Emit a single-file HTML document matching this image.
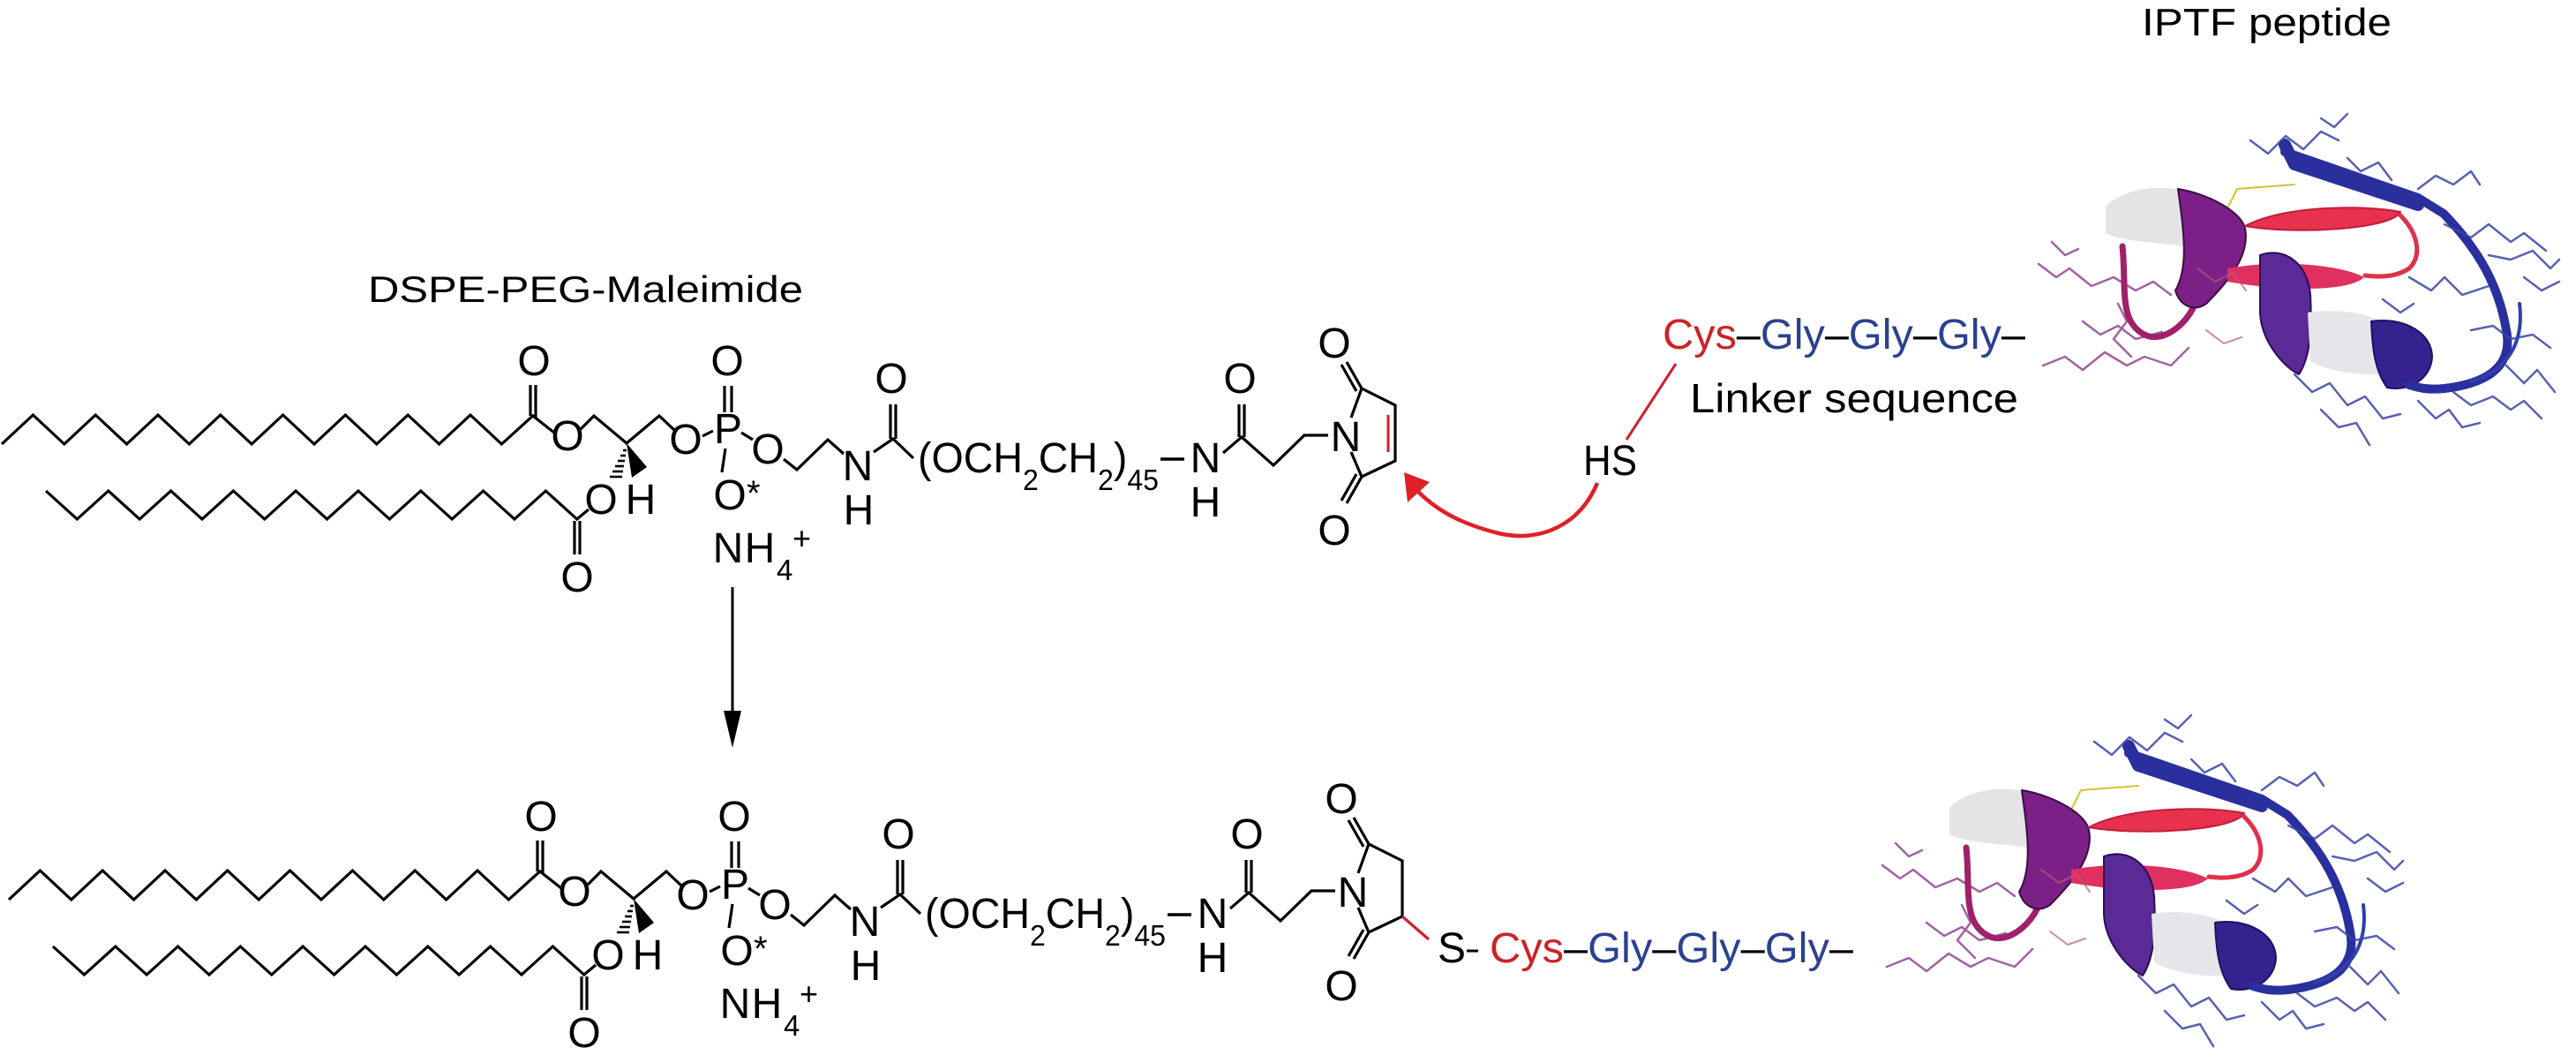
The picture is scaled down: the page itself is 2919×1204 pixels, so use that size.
<!DOCTYPE html>
<html><head><meta charset="utf-8"><style>
html,body{margin:0;padding:0;background:#fff;}
svg{display:block;}
text{font-family:"Liberation Sans Narrow","Liberation Sans",sans-serif;fill:#000;}
.b{stroke:#000;stroke-width:3.2;fill:none;stroke-linejoin:miter;}
.L{font-size:48px;text-anchor:middle;}
.s{font-size:33px;}
.p{font-size:48px;}
</style></head><body>
<svg width="2919" height="1204" viewBox="0 0 2919 1204" xmlns="http://www.w3.org/2000/svg">
<defs>
<g id="dspe">
 <polyline class="b" points="2,503 37.4,470 72.8,503 108.2,470 143.6,503 179,470 214.4,503 249.8,470 285.2,503 320.6,470 356,503 391.4,470 426.8,503 462.2,470 497.6,503 533,470 568.4,503 603.8,471 628,490"/>
 <polyline class="b" points="52,556 87.4,588 122.8,556 158.2,588 193.6,556 229,588 264.4,556 299.8,588 335.2,556 370.6,588 406,556 441.4,588 476.8,556 512.2,588 547.6,556 583,588 618.4,556 653.8,588 667,577"/>
 <line class="b" x1="601" y1="471" x2="601" y2="436"/><line class="b" x1="607" y1="473" x2="607" y2="436"/>
 <text class="L" x="605" y="425">O</text>
 <text class="L" x="643" y="510">O</text>
 <polyline class="b" points="658,486 673,471 710,502 747,471 764,487"/>
 <text class="L" x="777" y="514">O</text>
 <line class="b" x1="796" y1="494" x2="808" y2="488"/>
 <text class="L" x="825" y="502">P</text>
 <line class="b" x1="821" y1="467" x2="821" y2="437"/><line class="b" x1="829" y1="467" x2="829" y2="437"/>
 <text class="L" x="824" y="425">O</text>
 <line class="b" x1="840" y1="490" x2="853" y2="498"/>
 <text class="L" x="870" y="525">O</text>
 <polyline class="b" points="888,520 903,532 938,498 956,514"/>
 <text class="L" x="972" y="544">N</text>
 <text class="L" x="973" y="594">H</text>
 <polyline class="b" points="990,512 1012,497 1035,519"/>
 <line class="b" x1="1009" y1="497" x2="1009" y2="458"/><line class="b" x1="1015" y1="497" x2="1015" y2="458"/>
 <text class="L" x="1010" y="445">O</text>
 <line class="b" x1="822" y1="508" x2="818" y2="535"/>
 <text class="L" x="827" y="577">O</text>
 <text x="846" y="572" style="font-size:40px">*</text>
 <g stroke="#000" stroke-width="2.6">
  <line x1="706" y1="510" x2="710" y2="510"/><line x1="703" y1="516" x2="709" y2="516"/>
  <line x1="700" y1="522" x2="708" y2="522"/><line x1="697" y1="528" x2="707" y2="528"/>
  <line x1="694" y1="534" x2="706" y2="534"/><line x1="691" y1="540" x2="705" y2="540"/>
 </g>
 <polygon points="710,502 716,541 733,529" fill="#000"/>
 <text class="L" x="681" y="582">O</text><text class="L" x="726" y="582">H</text>
 <line class="b" x1="651" y1="590" x2="651" y2="628"/><line class="b" x1="657" y1="590" x2="657" y2="628"/>
 <text class="L" x="654" y="670">O</text>
 <text class="L" x="825" y="637">N</text><text class="L" x="861" y="637">H</text>
 <text class="s" x="880" y="657">4</text><text x="898" y="622" style="font-size:36px">+</text>
 <text x="1040" y="535" style="font-size:48px" textLength="273" lengthAdjust="spacingAndGlyphs">(OCH<tspan dy="20" style="font-size:33px">2</tspan><tspan dy="-20">CH</tspan><tspan dy="20" style="font-size:33px">2</tspan><tspan dy="-20">)</tspan><tspan dy="20" style="font-size:33px">45</tspan></text>
 <line class="b" x1="1315" y1="520" x2="1342" y2="520" style="stroke-width:3.6"/>
 <text class="L" x="1366" y="535">N</text><text class="L" x="1366" y="585">H</text>
 <polyline class="b" points="1386,513 1407,495 1443,527 1478,493 1505,493"/>
 <line class="b" x1="1404" y1="495" x2="1404" y2="458"/><line class="b" x1="1410" y1="495" x2="1410" y2="458"/>
 <text class="L" x="1405" y="445">O</text>
 <text class="L" x="1525" y="511">N</text>
 <polyline class="b" points="1531,473 1543,440 1581,459 1581,522 1543,540 1531,512"/>
 <line class="b" x1="1543" y1="440" x2="1526" y2="410"/><line class="b" x1="1537" y1="443" x2="1520" y2="413"/>
 <text class="L" x="1512" y="405">O</text>
 <line class="b" x1="1543" y1="540" x2="1526" y2="570"/><line class="b" x1="1537" y1="537" x2="1520" y2="567"/>
 <text class="L" x="1512" y="617">O</text>
</g>
<g id="prot" fill="none" stroke-linecap="round" stroke-linejoin="round">
 <g stroke="#8a3c8c" stroke-width="2.5" opacity="0.8">
  <polyline points="10,185 30,200 45,190 70,210 95,200 120,215 140,205 160,220"/>
  <polyline points="25,160 40,175 55,168"/>
  <polyline points="15,300 40,290 60,305 85,285 110,300 130,290 160,300 180,280"/>
  <polyline points="60,250 80,265 100,255 120,270 150,262"/>
  <polyline points="100,230 110,250 95,270 115,290"/>
 </g>
 <path d="M105,165 C110,210 100,250 130,265 C150,275 175,255 185,235" stroke="#a0206a" stroke-width="7"/>
 <path d="M86,120 C110,95 160,95 184,105 L175,165 C140,160 105,160 86,150 Z" fill="#e4e4e6" stroke="none"/>
 <path d="M168,100 C200,105 240,125 244,145 C250,175 225,205 200,230 C185,240 170,232 165,215 C180,190 175,150 168,100 Z" fill="#7c1f86" stroke="#3a0c45" stroke-width="2"/>
 <path d="M244,142 C290,118 380,118 420,126 C410,146 300,152 244,142 Z" fill="#e8304f" stroke="#c01f3c" stroke-width="2"/>
 <path d="M224,190 C280,180 350,185 379,200 C360,218 280,215 224,205 Z" fill="#e03060" stroke="none"/>
 <path d="M261,175 C290,165 315,185 318,220 C320,260 318,290 305,310 C285,300 262,270 261,240 Z" fill="#5a2a96" stroke="#2a0c55" stroke-width="2"/>
 <path d="M315,240 C345,235 390,240 403,255 L400,310 C370,312 335,305 318,295 Z" fill="#e6e6ea" stroke="none"/>
 <path d="M387,250 C420,245 455,260 456,290 C455,315 430,330 405,325 C390,305 388,275 387,250 Z" fill="#34228e" stroke="#1a1260" stroke-width="2"/>
 <path d="M289,58 L440,110 L469,128 C500,160 530,200 540,260 C548,300 520,320 470,326 C450,328 440,325 430,322" stroke="#2a2f9e" stroke-width="10"/>
 <path d="M289,50 L300,72 L440,118" stroke="#2a2f9e" stroke-width="14"/>
 <path d="M420,130 C440,150 445,175 430,190 C415,200 395,200 380,198" stroke="#e0304a" stroke-width="5"/>
 <path d="M555,230 C560,270 545,305 500,318" stroke="#3040a8" stroke-width="4"/>
 <g stroke="#3a45a8" stroke-width="2.5" opacity="0.85">
  <polyline points="250,45 270,60 290,40 310,55 330,35 350,45"/>
  <polyline points="330,20 345,30 360,15"/>
  <polyline points="440,100 460,85 480,95 500,80 510,95"/>
  <polyline points="470,140 500,155 520,140 545,160 560,150 585,170"/>
  <polyline points="520,175 545,180 570,170 590,190 600,180"/>
  <polyline points="430,200 455,215 470,200 490,220 520,210"/>
  <polyline points="500,260 525,255 545,270 570,265 590,280"/>
  <polyline points="480,330 500,345 525,335 545,350 560,340 580,360"/>
  <polyline points="440,340 460,360 475,350 490,370 510,365"/>
  <polyline points="300,310 320,330 340,320 360,345 380,335 400,360 420,355"/>
  <polyline points="330,350 350,370 370,365 385,390"/>
  <polyline points="560,200 580,215 600,205"/>
  <polyline points="540,300 560,320 575,305 595,330"/>
  <polyline points="360,65 375,80 395,70 410,90"/>
  <polyline points="400,225 420,240 435,230"/>
 </g>
 <g stroke="#b85a7a" stroke-width="2" opacity="0.7">
  <polyline points="190,190 210,205 230,195 245,215"/>
  <polyline points="200,260 220,275 240,268"/>
 </g>
 <polyline points="225,120 235,100 300,95" stroke="#d8c030" stroke-width="2"/>
</g>
</defs>

<text x="2427" y="40" style="font-size:44px" textLength="283" lengthAdjust="spacingAndGlyphs">IPTF peptide</text>
<text x="417" y="342" style="font-size:42px" textLength="493" lengthAdjust="spacingAndGlyphs">DSPE-PEG-Maleimide</text>

<use href="#dspe"/>
<line x1="1573" y1="470" x2="1573" y2="512" stroke="#d0202f" stroke-width="3"/>

<line x1="830" y1="665" x2="830" y2="812" stroke="#000" stroke-width="3"/>
<polygon points="820,805 840,805 830,847" fill="#000"/>

<line x1="1899" y1="412" x2="1843" y2="498" stroke="#d0202f" stroke-width="3"/>
<text x="1794" y="538" style="font-size:48px" textLength="61" lengthAdjust="spacingAndGlyphs">HS</text>
<path d="M1810,547 C1790,595 1745,615 1698,604 C1650,592 1625,575 1606,556" fill="none" stroke="#e11f26" stroke-width="4.5"/>
<polygon points="1591,535 1620,546 1595,569" fill="#e11f26"/>

<text x="1884" y="395" style="font-size:48px" textLength="411" lengthAdjust="spacingAndGlyphs"><tspan fill="#cc2229">Cys</tspan><tspan>–</tspan><tspan fill="#2b4190">Gly</tspan><tspan>–</tspan><tspan fill="#2b4190">Gly</tspan><tspan>–</tspan><tspan fill="#2b4190">Gly</tspan><tspan>–</tspan></text>
<text x="1915" y="467" style="font-size:46px" textLength="372" lengthAdjust="spacingAndGlyphs">Linker sequence</text>

<use href="#prot" transform="translate(2300,114)"/>

<g transform="translate(8,516)"><use href="#dspe"/></g>
<line x1="1589" y1="1038" x2="1619" y2="1064" stroke="#d0202f" stroke-width="3.2"/>
<text x="1629" y="1090" style="font-size:48px">S</text>
<line x1="1662" y1="1077" x2="1675" y2="1077" stroke="#000" stroke-width="3"/>
<text x="1688" y="1090" style="font-size:48px" textLength="412" lengthAdjust="spacingAndGlyphs"><tspan fill="#cc2229">Cys</tspan><tspan>–</tspan><tspan fill="#2b4190">Gly</tspan><tspan>–</tspan><tspan fill="#2b4190">Gly</tspan><tspan>–</tspan><tspan fill="#2b4190">Gly</tspan><tspan>–</tspan></text>

<use href="#prot" transform="translate(2123,795)"/>
</svg>
</body></html>
